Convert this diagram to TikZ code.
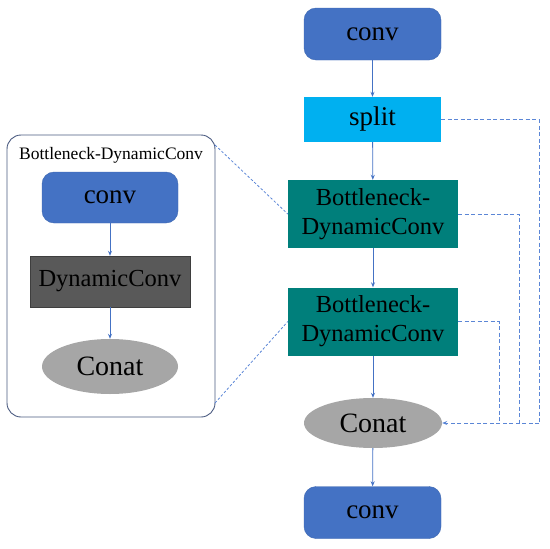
\documentclass[tikz,border=0pt]{standalone}
\usepackage{fontspec}
\setmainfont{Liberation Serif}
\usetikzlibrary{arrows.meta,shapes.geometric}
\definecolor{convblue}{HTML}{4472C4}
\definecolor{splitblue}{HTML}{00B0F0}
\definecolor{teal2}{HTML}{007F7B}
\definecolor{dyngray}{HTML}{595959}
\definecolor{conatgray}{HTML}{A6A6A6}
\definecolor{lineblue}{HTML}{4472C4}
\definecolor{dashblue}{HTML}{5B86D6}
\definecolor{boxborder}{HTML}{4A5A80}
\tikzset{
  convbox/.style={rectangle, rounded corners=12pt, fill=convblue, draw=convblue!90!black, line width=0.4pt, minimum width=137pt, minimum height=52pt, inner sep=0pt, font=\fontsize{27}{30}\selectfont},
  splitbox/.style={rectangle, fill=splitblue, minimum width=137pt, minimum height=45pt, inner sep=0pt, font=\fontsize{27}{30}\selectfont},
  bnbox/.style={rectangle, fill=teal2, minimum width=170pt, minimum height=68pt, inner sep=0pt, align=center, font=\fontsize{24.5}{29}\selectfont},
  dynbox/.style={rectangle, fill=dyngray, draw=dyngray!70!black, minimum width=160pt, minimum height=51pt, inner sep=0pt, font=\fontsize{24.5}{29}\selectfont},
  conat/.style={ellipse, fill=conatgray, minimum width=138pt, minimum height=50pt, inner sep=0pt, font=\fontsize{28}{30}\selectfont},
  flow/.style={draw=lineblue, line width=0.8pt, -{Stealth[length=5pt,width=4pt]}},
  skip/.style={draw=dashblue, line width=1pt, dash pattern=on 4pt off 2.5pt},
  zoomline/.style={draw=dashblue, line width=0.8pt, dash pattern=on 2.5pt off 2pt},
}
\begin{document}
\begin{tikzpicture}[x=1pt,y=-1pt]
\useasboundingbox (0,0) rectangle (550,549);
% main column
\node[convbox] (c1) at (372.5,34) {conv};
\node[splitbox] (sp) at (372.5,119.5) {split};
\node[bnbox] (b1) at (373,214) {Bottleneck-\\DynamicConv};
\node[bnbox] (b2) at (373,321.5) {Bottleneck-\\DynamicConv};
\node[conat] (ca) at (373,423) {Conat};
\node[convbox] (c2) at (372.5,512.5) {conv};
\draw[flow] (c1) -- (sp);
\draw[flow] (sp) -- (b1);
\draw[flow] (b1) -- (b2);
\draw[flow] (b2) -- (ca);
\draw[flow] (ca) -- (c2);
% skip connections
\coordinate (s1) at (539,119.5);
\coordinate (s2) at (539,423);
\coordinate (t1) at (519,214);
\coordinate (t2) at (519,423);
\coordinate (u1) at (499,321.5);
\coordinate (u2) at (499,423);
\draw[skip] (sp.east) -- (s1) -- (s2);
\draw[skip] (b1.east) -- (t1) -- (t2);
\draw[skip] (b2.east) -- (u1) -- (u2);
\draw[skip, -{Stealth[length=5pt,width=4pt]}] (s2) -- (ca.east);
% left detail box
\node[rectangle, rounded corners=14pt, draw=boxborder, line width=0.9pt, minimum width=208pt, minimum height=282pt, inner sep=0pt] (box) at (111,276) {};
\node[anchor=west, inner sep=0pt, font=\fontsize{17.5}{20}\selectfont] (title) at (19,155) {Bottleneck-DynamicConv};
\node[convbox, minimum width=136pt, minimum height=51pt] (ic) at (110,197.5) {conv};
\node[dynbox] (id) at (110,281.5) {DynamicConv};
\node[conat, minimum width=136pt, minimum height=55pt] (ia) at (110,366.5) {Conat};
\draw[flow] (ic) -- (id);
\draw[flow] (id) -- (ia);
\coordinate (z1) at (215,145);
\coordinate (z2) at (215,403);
\draw[zoomline] (z1) -- (b1.west);
\draw[zoomline] (z2) -- (b2.west);
\end{tikzpicture}
\end{document}
